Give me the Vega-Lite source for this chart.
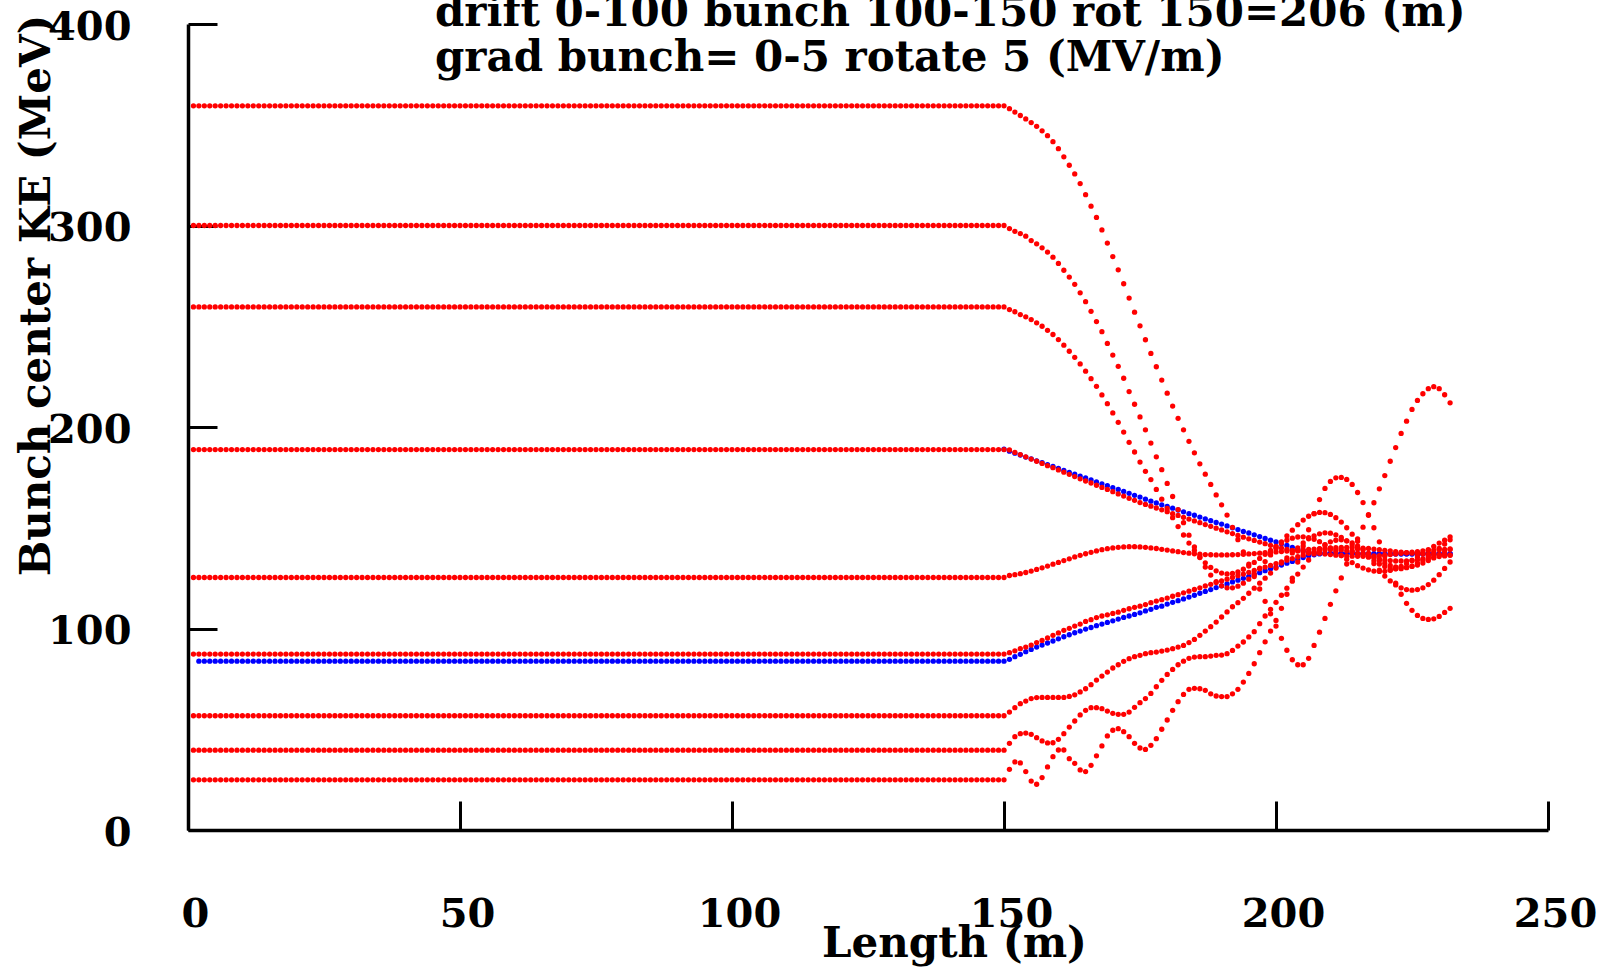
{
  "$schema": "https://vega.github.io/schema/vega-lite/v6.json",
  "width": 1360,
  "height": 806,
  "autosize": {"type": "none"},
  "padding": {"left": 188, "top": 24, "right": 56, "bottom": 140},
  "background": "white",
  "config": {"view": {"stroke": null}, "font": "DejaVu Serif"},
  "title": {
    "text": ["drift 0-100 bunch 100-150 rot 150=206 (m)", "grad bunch= 0-5 rotate 5 (MV/m)"],
    "anchor": "start",
    "frame": "group",
    "orient": "top",
    "dx": 247,
    "offset": -106,
    "baseline": "alphabetic",
    "font": "DejaVu Serif",
    "fontSize": 42,
    "fontWeight": "bold",
    "color": "black",
    "lineHeight": 45
  },
  "data": {
    "format": {"type": "csv", "parse": {"x": "number", "r360": "number", "r300": "number", "r260": "number", "r190": "number", "r126": "number", "r88": "number", "r57": "number", "r40": "number", "r25": "number", "b84": "number", "b190": "number"}},
    "values": "x,r360,r300,r260,r190,r126,r88,r57,r40,r25,b84,b190\n1,359.4,300,259.6,188.8,125.3,87.3,56.7,39.6,24.9,,\n2,359.4,300,259.6,188.8,125.3,87.3,56.7,39.6,24.9,83.8,\n3,359.4,300,259.6,188.8,125.3,87.3,56.7,39.6,24.9,83.8,\n4,359.4,300,259.6,188.8,125.3,87.3,56.7,39.6,24.9,83.8,\n5,359.4,300,259.6,188.8,125.3,87.3,56.7,39.6,24.9,83.8,\n6,359.4,300,259.6,188.8,125.3,87.3,56.7,39.6,24.9,83.8,\n7,359.4,300,259.6,188.8,125.3,87.3,56.7,39.6,24.9,83.8,\n8,359.4,300,259.6,188.8,125.3,87.3,56.7,39.6,24.9,83.8,\n9,359.4,300,259.6,188.8,125.3,87.3,56.7,39.6,24.9,83.8,\n10,359.4,300,259.6,188.8,125.3,87.3,56.7,39.6,24.9,83.8,\n11,359.4,300,259.6,188.8,125.3,87.3,56.7,39.6,24.9,83.8,\n12,359.4,300,259.6,188.8,125.3,87.3,56.7,39.6,24.9,83.8,\n13,359.4,300,259.6,188.8,125.3,87.3,56.7,39.6,24.9,83.8,\n14,359.4,300,259.6,188.8,125.3,87.3,56.7,39.6,24.9,83.8,\n15,359.4,300,259.6,188.8,125.3,87.3,56.7,39.6,24.9,83.8,\n16,359.4,300,259.6,188.8,125.3,87.3,56.7,39.6,24.9,83.8,\n17,359.4,300,259.6,188.8,125.3,87.3,56.7,39.6,24.9,83.8,\n18,359.4,300,259.6,188.8,125.3,87.3,56.7,39.6,24.9,83.8,\n19,359.4,300,259.6,188.8,125.3,87.3,56.7,39.6,24.9,83.8,\n20,359.4,300,259.6,188.8,125.3,87.3,56.7,39.6,24.9,83.8,\n21,359.4,300,259.6,188.8,125.3,87.3,56.7,39.6,24.9,83.8,\n22,359.4,300,259.6,188.8,125.3,87.3,56.7,39.6,24.9,83.8,\n23,359.4,300,259.6,188.8,125.3,87.3,56.7,39.6,24.9,83.8,\n24,359.4,300,259.6,188.8,125.3,87.3,56.7,39.6,24.9,83.8,\n25,359.4,300,259.6,188.8,125.3,87.3,56.7,39.6,24.9,83.8,\n26,359.4,300,259.6,188.8,125.3,87.3,56.7,39.6,24.9,83.8,\n27,359.4,300,259.6,188.8,125.3,87.3,56.7,39.6,24.9,83.8,\n28,359.4,300,259.6,188.8,125.3,87.3,56.7,39.6,24.9,83.8,\n29,359.4,300,259.6,188.8,125.3,87.3,56.7,39.6,24.9,83.8,\n30,359.4,300,259.6,188.8,125.3,87.3,56.7,39.6,24.9,83.8,\n31,359.4,300,259.6,188.8,125.3,87.3,56.7,39.6,24.9,83.8,\n32,359.4,300,259.6,188.8,125.3,87.3,56.7,39.6,24.9,83.8,\n33,359.4,300,259.6,188.8,125.3,87.3,56.7,39.6,24.9,83.8,\n34,359.4,300,259.6,188.8,125.3,87.3,56.7,39.6,24.9,83.8,\n35,359.4,300,259.6,188.8,125.3,87.3,56.7,39.6,24.9,83.8,\n36,359.4,300,259.6,188.8,125.3,87.3,56.7,39.6,24.9,83.8,\n37,359.4,300,259.6,188.8,125.3,87.3,56.7,39.6,24.9,83.8,\n38,359.4,300,259.6,188.8,125.3,87.3,56.7,39.6,24.9,83.8,\n39,359.4,300,259.6,188.8,125.3,87.3,56.7,39.6,24.9,83.8,\n40,359.4,300,259.6,188.8,125.3,87.3,56.7,39.6,24.9,83.8,\n41,359.4,300,259.6,188.8,125.3,87.3,56.7,39.6,24.9,83.8,\n42,359.4,300,259.6,188.8,125.3,87.3,56.7,39.6,24.9,83.8,\n43,359.4,300,259.6,188.8,125.3,87.3,56.7,39.6,24.9,83.8,\n44,359.4,300,259.6,188.8,125.3,87.3,56.7,39.6,24.9,83.8,\n45,359.4,300,259.6,188.8,125.3,87.3,56.7,39.6,24.9,83.8,\n46,359.4,300,259.6,188.8,125.3,87.3,56.7,39.6,24.9,83.8,\n47,359.4,300,259.6,188.8,125.3,87.3,56.7,39.6,24.9,83.8,\n48,359.4,300,259.6,188.8,125.3,87.3,56.7,39.6,24.9,83.8,\n49,359.4,300,259.6,188.8,125.3,87.3,56.7,39.6,24.9,83.8,\n50,359.4,300,259.6,188.8,125.3,87.3,56.7,39.6,24.9,83.8,\n51,359.4,300,259.6,188.8,125.3,87.3,56.7,39.6,24.9,83.8,\n52,359.4,300,259.6,188.8,125.3,87.3,56.7,39.6,24.9,83.8,\n53,359.4,300,259.6,188.8,125.3,87.3,56.7,39.6,24.9,83.8,\n54,359.4,300,259.6,188.8,125.3,87.3,56.7,39.6,24.9,83.8,\n55,359.4,300,259.6,188.8,125.3,87.3,56.7,39.6,24.9,83.8,\n56,359.4,300,259.6,188.8,125.3,87.3,56.7,39.6,24.9,83.8,\n57,359.4,300,259.6,188.8,125.3,87.3,56.7,39.6,24.9,83.8,\n58,359.4,300,259.6,188.8,125.3,87.3,56.7,39.6,24.9,83.8,\n59,359.4,300,259.6,188.8,125.3,87.3,56.7,39.6,24.9,83.8,\n60,359.4,300,259.6,188.8,125.3,87.3,56.7,39.6,24.9,83.8,\n61,359.4,300,259.6,188.8,125.3,87.3,56.7,39.6,24.9,83.8,\n62,359.4,300,259.6,188.8,125.3,87.3,56.7,39.6,24.9,83.8,\n63,359.4,300,259.6,188.8,125.3,87.3,56.7,39.6,24.9,83.8,\n64,359.4,300,259.6,188.8,125.3,87.3,56.7,39.6,24.9,83.8,\n65,359.4,300,259.6,188.8,125.3,87.3,56.7,39.6,24.9,83.8,\n66,359.4,300,259.6,188.8,125.3,87.3,56.7,39.6,24.9,83.8,\n67,359.4,300,259.6,188.8,125.3,87.3,56.7,39.6,24.9,83.8,\n68,359.4,300,259.6,188.8,125.3,87.3,56.7,39.6,24.9,83.8,\n69,359.4,300,259.6,188.8,125.3,87.3,56.7,39.6,24.9,83.8,\n70,359.4,300,259.6,188.8,125.3,87.3,56.7,39.6,24.9,83.8,\n71,359.4,300,259.6,188.8,125.3,87.3,56.7,39.6,24.9,83.8,\n72,359.4,300,259.6,188.8,125.3,87.3,56.7,39.6,24.9,83.8,\n73,359.4,300,259.6,188.8,125.3,87.3,56.7,39.6,24.9,83.8,\n74,359.4,300,259.6,188.8,125.3,87.3,56.7,39.6,24.9,83.8,\n75,359.4,300,259.6,188.8,125.3,87.3,56.7,39.6,24.9,83.8,\n76,359.4,300,259.6,188.8,125.3,87.3,56.7,39.6,24.9,83.8,\n77,359.4,300,259.6,188.8,125.3,87.3,56.7,39.6,24.9,83.8,\n78,359.4,300,259.6,188.8,125.3,87.3,56.7,39.6,24.9,83.8,\n79,359.4,300,259.6,188.8,125.3,87.3,56.7,39.6,24.9,83.8,\n80,359.4,300,259.6,188.8,125.3,87.3,56.7,39.6,24.9,83.8,\n81,359.4,300,259.6,188.8,125.3,87.3,56.7,39.6,24.9,83.8,\n82,359.4,300,259.6,188.8,125.3,87.3,56.7,39.6,24.9,83.8,\n83,359.4,300,259.6,188.8,125.3,87.3,56.7,39.6,24.9,83.8,\n84,359.4,300,259.6,188.8,125.3,87.3,56.7,39.6,24.9,83.8,\n85,359.4,300,259.6,188.8,125.3,87.3,56.7,39.6,24.9,83.8,\n86,359.4,300,259.6,188.8,125.3,87.3,56.7,39.6,24.9,83.8,\n87,359.4,300,259.6,188.8,125.3,87.3,56.7,39.6,24.9,83.8,\n88,359.4,300,259.6,188.8,125.3,87.3,56.7,39.6,24.9,83.8,\n89,359.4,300,259.6,188.8,125.3,87.3,56.7,39.6,24.9,83.8,\n90,359.4,300,259.6,188.8,125.3,87.3,56.7,39.6,24.9,83.8,\n91,359.4,300,259.6,188.8,125.3,87.3,56.7,39.6,24.9,83.8,\n92,359.4,300,259.6,188.8,125.3,87.3,56.7,39.6,24.9,83.8,\n93,359.4,300,259.6,188.8,125.3,87.3,56.7,39.6,24.9,83.8,\n94,359.4,300,259.6,188.8,125.3,87.3,56.7,39.6,24.9,83.8,\n95,359.4,300,259.6,188.8,125.3,87.3,56.7,39.6,24.9,83.8,\n96,359.4,300,259.6,188.8,125.3,87.3,56.7,39.6,24.9,83.8,\n97,359.4,300,259.6,188.8,125.3,87.3,56.7,39.6,24.9,83.8,\n98,359.4,300,259.6,188.8,125.3,87.3,56.7,39.6,24.9,83.8,\n99,359.4,300,259.6,188.8,125.3,87.3,56.7,39.6,24.9,83.8,\n100,359.4,300,259.6,188.8,125.3,87.3,56.7,39.6,24.9,83.8,\n101,359.4,300,259.6,188.8,125.3,87.3,56.7,39.6,24.9,83.8,\n102,359.4,300,259.6,188.8,125.3,87.3,56.7,39.6,24.9,83.8,\n103,359.4,300,259.6,188.8,125.3,87.3,56.7,39.6,24.9,83.8,\n104,359.4,300,259.6,188.8,125.3,87.3,56.7,39.6,24.9,83.8,\n105,359.4,300,259.6,188.8,125.3,87.3,56.7,39.6,24.9,83.8,\n106,359.4,300,259.6,188.8,125.3,87.3,56.7,39.6,24.9,83.8,\n107,359.4,300,259.6,188.8,125.3,87.3,56.7,39.6,24.9,83.8,\n108,359.4,300,259.6,188.8,125.3,87.3,56.7,39.6,24.9,83.8,\n109,359.4,300,259.6,188.8,125.3,87.3,56.7,39.6,24.9,83.8,\n110,359.4,300,259.6,188.8,125.3,87.3,56.7,39.6,24.9,83.8,\n111,359.4,300,259.6,188.8,125.3,87.3,56.7,39.6,24.9,83.8,\n112,359.4,300,259.6,188.8,125.3,87.3,56.7,39.6,24.9,83.8,\n113,359.4,300,259.6,188.8,125.3,87.3,56.7,39.6,24.9,83.8,\n114,359.4,300,259.6,188.8,125.3,87.3,56.7,39.6,24.9,83.8,\n115,359.4,300,259.6,188.8,125.3,87.3,56.7,39.6,24.9,83.8,\n116,359.4,300,259.6,188.8,125.3,87.3,56.7,39.6,24.9,83.8,\n117,359.4,300,259.6,188.8,125.3,87.3,56.7,39.6,24.9,83.8,\n118,359.4,300,259.6,188.8,125.3,87.3,56.7,39.6,24.9,83.8,\n119,359.4,300,259.6,188.8,125.3,87.3,56.7,39.6,24.9,83.8,\n120,359.4,300,259.6,188.8,125.3,87.3,56.7,39.6,24.9,83.8,\n121,359.4,300,259.6,188.8,125.3,87.3,56.7,39.6,24.9,83.8,\n122,359.4,300,259.6,188.8,125.3,87.3,56.7,39.6,24.9,83.8,\n123,359.4,300,259.6,188.8,125.3,87.3,56.7,39.6,24.9,83.8,\n124,359.4,300,259.6,188.8,125.3,87.3,56.7,39.6,24.9,83.8,\n125,359.4,300,259.6,188.8,125.3,87.3,56.7,39.6,24.9,83.8,\n126,359.4,300,259.6,188.8,125.3,87.3,56.7,39.6,24.9,83.8,\n127,359.4,300,259.6,188.8,125.3,87.3,56.7,39.6,24.9,83.8,\n128,359.4,300,259.6,188.8,125.3,87.3,56.7,39.6,24.9,83.8,\n129,359.4,300,259.6,188.8,125.3,87.3,56.7,39.6,24.9,83.8,\n130,359.4,300,259.6,188.8,125.3,87.3,56.7,39.6,24.9,83.8,\n131,359.4,300,259.6,188.8,125.3,87.3,56.7,39.6,24.9,83.8,\n132,359.4,300,259.6,188.8,125.3,87.3,56.7,39.6,24.9,83.8,\n133,359.4,300,259.6,188.8,125.3,87.3,56.7,39.6,24.9,83.8,\n134,359.4,300,259.6,188.8,125.3,87.3,56.7,39.6,24.9,83.8,\n135,359.4,300,259.6,188.8,125.3,87.3,56.7,39.6,24.9,83.8,\n136,359.4,300,259.6,188.8,125.3,87.3,56.7,39.6,24.9,83.8,\n137,359.4,300,259.6,188.8,125.3,87.3,56.7,39.6,24.9,83.8,\n138,359.4,300,259.6,188.8,125.3,87.3,56.7,39.6,24.9,83.8,\n139,359.4,300,259.6,188.8,125.3,87.3,56.7,39.6,24.9,83.8,\n140,359.4,300,259.6,188.8,125.3,87.3,56.7,39.6,24.9,83.8,\n141,359.4,300,259.6,188.8,125.3,87.3,56.7,39.6,24.9,83.8,\n142,359.4,300,259.6,188.8,125.3,87.3,56.7,39.6,24.9,83.8,\n143,359.4,300,259.6,188.8,125.3,87.3,56.7,39.6,24.9,83.8,\n144,359.4,300,259.6,188.8,125.3,87.3,56.7,39.6,24.9,83.8,\n145,359.4,300,259.6,188.8,125.3,87.3,56.7,39.6,24.9,83.8,\n146,359.4,300,259.6,188.8,125.3,87.3,56.7,39.6,24.9,83.8,\n147,359.4,300,259.6,188.8,125.3,87.3,56.7,39.6,24.9,83.8,\n148,359.4,300,259.6,188.8,125.3,87.3,56.7,39.6,24.9,83.8,\n149,359.4,300,259.6,188.8,125.3,87.3,56.7,39.6,24.9,83.8,\n150,359.4,300,259.6,188.8,125.3,87.3,56.7,39.6,24.9,83.8,189\n151,358.0,298.5,258.3,188.6,126.3,88.0,58.5,43.0,30.1,84.7,188.0\n152,356.3,297.1,257.2,187.4,126.7,88.9,60.7,46.3,33.8,86.0,187.0\n153,354.6,296.0,255.8,186.3,127.2,90.0,62.7,47.8,33.3,87.2,186.1\n154,352.9,294.7,254.7,185.2,127.8,90.8,64.0,48.1,29.0,88.5,185.1\n155,351.1,292.5,253.3,184.1,128.5,91.8,65.2,47.5,24.3,89.6,184.2\n156,349.2,290.9,251.7,183.0,129.3,93.0,65.7,45.8,22.7,90.8,183.2\n157,347.0,288.9,250.0,181.9,130.1,94.1,65.8,44.2,26.0,91.8,182.3\n158,344.6,286.8,248.0,180.8,131.0,95.3,65.8,43.2,31.3,92.8,181.3\n159,341.6,284.3,245.9,179.8,131.9,96.6,65.8,43.3,36.4,93.8,180.4\n160,338.1,281.2,243.4,178.7,132.8,97.8,65.8,45.0,39.7,94.9,179.4\n161,334.1,277.8,240.6,177.6,133.7,99.1,65.8,47.8,39.7,95.9,178.5\n162,329.9,274.4,237.6,176.5,134.6,100.1,66.3,51.1,35.4,96.9,177.5\n163,325.6,270.8,234.6,175.4,135.5,101.2,67.1,54.1,33.1,97.9,176.6\n164,320.8,266.6,231.3,174.3,136.3,102.2,68.5,57.1,29.8,98.7,175.6\n165,315.3,262.2,227.7,173.2,137.1,103.5,70.1,59.4,29.0,99.7,174.7\n166,309.6,257.4,224.0,172.2,137.8,104.4,72.1,60.7,32.1,100.5,173.7\n167,304.0,252.3,220.2,171.1,138.5,105.4,74.4,60.7,36.8,101.4,172.8\n168,297.8,247.3,215.9,170.0,139.1,106.2,76.4,60.2,41.7,102.2,171.8\n169,291.3,241.5,211.6,169.0,139.6,106.8,78.4,59.0,46.7,103.0,170.9\n170,284.6,235.7,207.0,167.9,140.0,107.5,80.4,57.9,49.5,103.8,169.9\n171,278.0,230.1,202.3,166.8,140.3,108.1,82.0,57.4,50.3,104.7,169.0\n172,271.1,224.2,197.5,165.7,140.5,109.0,83.7,57.4,48.8,105.5,168.0\n173,264.0,217.6,192.4,164.6,140.6,109.8,85.0,58.5,46.3,106.2,167.1\n174,257.0,211.3,187.6,163.6,140.6,110.5,86.0,60.9,43.0,107.0,166.1\n175,250.2,205.0,182.6,162.5,140.5,111.1,86.7,63.2,40.7,107.8,165.2\n176,243.3,198.6,178.0,161.6,140.3,111.9,87.5,65.2,40.0,108.7,164.2\n177,236.5,192.0,173.9,160.7,140.0,112.8,88.0,67.8,42.0,109.5,163.2\n178,229.9,185.2,169.0,159.8,139.7,113.6,88.3,71.1,45.3,110.5,162.3\n179,223.3,178.8,164.2,158.9,139.3,114.3,88.8,74.3,50.0,111.1,161.4\n180,216.8,172.0,159.6,158.0,138.9,115.1,89.3,77.2,54.6,112.1,160.6\n181,210.4,165.5,155.0,157.0,138.5,116.0,90.0,79.7,59.4,113.0,159.7\n182,204.3,159.0,150.6,156.1,138.1,116.8,90.8,82.0,63.7,113.8,158.8\n183,198.6,152.5,146.4,155.2,137.7,117.7,91.6,83.8,67.3,114.7,157.9\n184,192.9,146.3,142.4,154.3,137.4,118.5,93.0,85.2,69.8,115.6,157.0\n185,187.2,140.5,138.8,153.4,137.1,119.4,94.6,85.8,70.3,116.5,156.2\n186,181.7,135.2,135.5,152.5,136.9,120.2,96.6,86.0,70.1,117.5,155.3\n187,176.6,130.5,132.6,151.6,136.7,121.1,98.7,86.0,69.3,118.4,154.4\n188,171.5,126.5,130.3,150.7,136.6,121.9,100.9,86.3,67.6,119.3,153.5\n189,166.3,123.3,128.6,149.8,136.5,122.8,103.2,86.7,66.5,120.3,152.6\n190,161.4,121.2,127.5,148.9,136.5,123.6,105.7,86.8,66.2,121.2,151.8\n191,156.3,120.2,127.1,148.0,136.5,124.5,108.2,87.5,66.2,122.1,150.9\n192,150.2,120.2,127.3,147.1,136.6,125.3,110.8,89.1,67.6,123.1,150.0\n193,144.1,121.0,128.1,146.2,136.7,126.2,112.8,91.3,69.8,124.0,149.1\n194,138.0,122.5,129.4,145.3,136.8,127.0,115.0,93.3,73.4,124.9,148.2\n195,131.9,124.5,131.0,144.5,137.0,127.9,117.5,95.8,77.7,125.9,147.4\n196,125.8,127.0,132.8,143.7,137.2,128.8,120.0,98.4,82.5,126.8,146.5\n197,119.6,130.0,134.8,142.9,137.4,129.6,122.5,102.4,88.0,127.7,145.6\n198,113.5,133.2,136.8,142.1,137.6,130.5,125.0,106.2,93.4,128.7,144.7\n199,107.3,136.5,138.8,141.3,137.8,131.3,127.5,109.5,98.7,129.6,143.8\n200,101.2,139.8,140.7,140.6,138.0,132.2,130.0,113.0,104.0,130.5,143.0\n201,95.1,143.0,142.4,139.9,138.2,133.0,132.5,116.5,110.0,131.5,142.1\n202,89.2,146.0,143.8,139.3,138.4,133.9,135.0,120.0,117.0,132.4,141.2\n203,84.5,148.8,144.8,138.8,138.6,134.7,137.5,123.5,125.0,133.3,140.3\n204,82.0,151.5,145.4,138.4,138.8,135.6,140.0,127.0,133.0,134.3,139.4\n205,82.0,153.8,145.5,138.0,139.0,136.4,142.5,130.5,141.0,135.2,138.6\n206,85.2,155.7,145.1,137.8,139.2,137.3,144.5,134.0,149.0,136.1,137.7\n207,91.6,157.0,144.3,137.6,139.4,138.0,146.0,137.0,157.0,136.6,137.5\n208,98.2,157.6,143.1,137.3,139.6,138.6,147.0,139.5,164.0,137.0,137.4\n209,105.0,157.5,141.6,137.0,139.8,139.0,147.5,141.5,169.5,137.2,137.4\n210,112.0,156.6,139.9,136.7,140.0,139.2,147.3,143.0,173.0,137.3,137.3\n211,118.7,155.0,138.1,136.4,140.1,139.2,146.5,143.8,174.8,137.3,137.3\n212,125.1,152.8,136.2,136.2,140.2,139.0,145.2,144.0,175.0,137.3,137.3\n213,132.0,150.0,134.4,136.0,140.2,138.6,143.5,143.5,174.0,137.2,137.2\n214,138.5,146.8,132.7,135.9,140.2,138.0,141.6,142.5,171.5,137.2,137.2\n215,144.5,143.3,131.2,135.8,140.1,137.3,139.5,141.0,167.5,137.1,137.2\n216,150.3,139.5,130.0,135.8,139.9,136.5,137.4,139.2,162.5,137.1,137.2\n217,156.2,135.8,129.1,135.9,139.7,135.8,135.4,137.3,156.5,137.0,137.1\n218,162.4,132.2,128.5,136.0,139.4,135.1,133.6,135.5,150.0,137.0,137.1\n219,169.3,128.9,128.3,136.2,139.1,134.5,132.0,133.8,143.0,137.0,137.1\n220,175.9,126.0,128.4,136.4,138.8,134.0,130.8,132.4,136.0,137.0,137.1\n221,183.0,123.6,128.9,136.7,138.5,133.7,130.0,131.3,129.0,137.0,137.1\n222,189.8,121.6,129.7,137.0,138.2,133.5,129.6,130.6,122.5,137.0,137.1\n223,196.8,120.2,130.8,137.3,137.9,133.5,129.7,130.3,117.0,137.0,137.1\n224,202.9,119.3,132.2,137.6,137.6,133.6,130.2,130.4,112.5,137.0,137.1\n225,208.7,119.0,133.8,137.9,137.4,133.8,131.1,130.8,109.0,137.0,137.1\n226,213.2,119.3,135.5,138.2,137.2,134.1,132.4,131.5,106.5,137.0,137.1\n227,216.5,120.2,137.3,138.5,137.0,134.5,134.0,132.5,105.0,137.0,137.1\n228,219.0,121.8,139.1,138.7,136.8,134.9,135.8,133.7,104.5,137.0,137.1\n229,220.0,124.0,140.8,138.9,136.7,135.3,137.8,135.0,104.8,137.0,137.1\n230,219.0,126.7,142.4,139.1,136.6,135.7,139.8,136.5,106.0,137.0,137.1\n231,216.0,129.8,143.8,139.2,136.5,136.0,141.9,138.0,108.0,137.0,137.1\n232,212.0,133.0,145.5,139.3,136.5,136.3,144.0,139.5,110.0,137.0,137.1"
  },
  "encoding": {
    "x": {
      "field": "x",
      "type": "quantitative",
      "scale": {"domain": [0, 250], "nice": false, "zero": false},
      "axis": {
        "orient": "bottom",
        "values": [0, 50, 100, 150, 200, 250],
        "grid": false,
        "domainColor": "black",
        "domainWidth": 3.5,
        "tickColor": "black",
        "tickWidth": 3,
        "tickSize": -29,
        "labelPadding": 125,
        "labelBaseline": "alphabetic",
        "labelOffset": 7,
        "labelFont": "DejaVu Serif",
        "labelFontSize": 40,
        "labelFontWeight": "bold",
        "labelColor": "black",
        "labelFlush": false,
        "labelOverlap": false,
        "title": "Length (m)",
        "titleFont": "DejaVu Serif",
        "titleFontSize": 42,
        "titleFontWeight": "bold",
        "titleColor": "black",
        "titleX": 766,
        "titleY": 126,
        "titleAlign": "center",
        "titleBaseline": "alphabetic"
      }
    },
    "y": {
      "field": "ke",
      "type": "quantitative",
      "scale": {"domain": [0, 400], "nice": false, "zero": false},
      "axis": {
        "orient": "left",
        "values": [0, 100, 200, 300, 400],
        "grid": false,
        "domainColor": "black",
        "domainWidth": 3.5,
        "tickColor": "black",
        "tickWidth": 3,
        "tickSize": -29,
        "labelPadding": 86,
        "labelAlign": "right",
        "labelBaseline": "middle",
        "labelOffset": 3,
        "labelFont": "DejaVu Serif",
        "labelFontSize": 40,
        "labelFontWeight": "bold",
        "labelColor": "black",
        "labelFlush": false,
        "labelOverlap": false,
        "title": "Bunch center KE (MeV)",
        "titleFont": "DejaVu Serif",
        "titleFontSize": 42,
        "titleFontWeight": "bold",
        "titleColor": "black",
        "titleAngle": 270,
        "titleX": -139,
        "titleY": 271,
        "titleAlign": "center",
        "titleBaseline": "alphabetic"
      }
    }
  },
  "layer": [
    {
      "transform": [{"fold": ["b84", "b190"], "as": ["series", "ke"]}],
      "mark": {"type": "circle", "size": 28, "color": "#0000ff", "opacity": 1}
    },
    {
      "transform": [{"fold": ["r360", "r300", "r260", "r190", "r126", "r88", "r57", "r40", "r25"], "as": ["series", "ke"]}],
      "mark": {"type": "circle", "size": 28, "color": "#ff0000", "opacity": 1}
    },
    {
      "data": {"values": [{"z": 100}, {"z": 150}, {"z": 206}, {"z": 215}]},
      "mark": {"type": "rule", "color": "#00c800", "strokeWidth": 2.5},
      "encoding": {
        "x": {"field": "z", "type": "quantitative", "title": "Length (m)"},
        "y": {"datum": 0},
        "y2": {"datum": 350}
      }
    }
  ]
}
